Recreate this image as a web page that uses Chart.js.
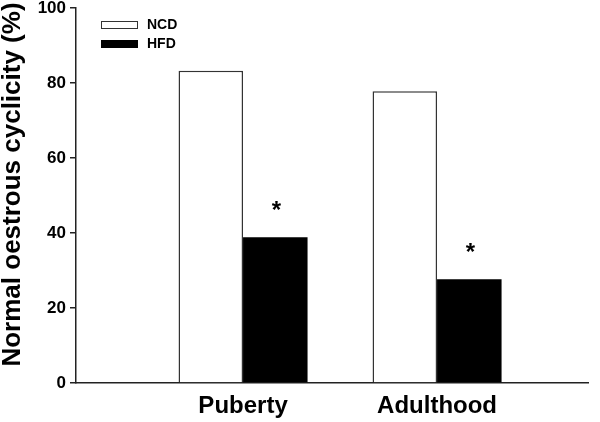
<!DOCTYPE html>
<html>
<head>
<meta charset="utf-8">
<script src="https://cdn.jsdelivr.net/npm/chart.js@4"></script>
<style>
  html, body { margin: 0; padding: 0; background: #fff; }
  #wrap { width: 600px; height: 422px; }
</style>
</head>
<body>
<div id="wrap"><canvas id="chart" width="600" height="422"></canvas></div>
<script>
// data
const categories = ['Puberty', 'Adulthood'];
const ncdValues = [83.3, 77.8];
const hfdValues = [38.9, 27.7];
const significant = [true, true]; // asterisk above HFD bar
const yTicks = [0, 20, 40, 60, 80, 100];
const seriesNames = ['NCD', 'HFD'];
const yTitle = 'Normal oestrous cyclicity (%)';

const FONT = 'Arial, "Liberation Sans", Helvetica, sans-serif';

function toPoints(values) {
    return values.map((v, i) => ({ x: i + 1, y: v }));
}

// legend drawn top-left inside the plot
const legendPlugin = {
    id: 'boxLegend',
    afterDraw(chart) {
        const ctx = chart.ctx;
        const area = chart.chartArea;
        const x0 = area.left + 25;
        ctx.save();
        chart.data.datasets.forEach((ds, i) => {
            const y = area.top + 13 + i * 19;
            ctx.fillStyle = ds.backgroundColor;
            ctx.fillRect(x0, y, 37, 8);
            ctx.lineWidth = 1;
            ctx.strokeStyle = ds.borderColor;
            ctx.strokeRect(x0 + 0.5, y + 0.5, 36, 7);
            ctx.fillStyle = '#000';
            ctx.font = 'bold 14px ' + FONT;
            ctx.textBaseline = 'middle';
            ctx.textAlign = 'left';
            ctx.fillText(ds.label, x0 + 46, y + 4.5);
        });
        ctx.restore();
    }
};

// rotated y title, sits a little above the plot centre like the original
const yTitlePlugin = {
    id: 'yTitle',
    afterDraw(chart) {
        const ctx = chart.ctx;
        const area = chart.chartArea;
        ctx.save();
        ctx.translate(13, (area.top + area.bottom) / 2 - 11);
        ctx.rotate(-Math.PI / 2);
        ctx.fillStyle = '#000';
        ctx.font = 'bold 26px ' + FONT;
        ctx.textAlign = 'center';
        ctx.textBaseline = 'middle';
        ctx.fillText(yTitle, 0, 0);
        ctx.restore();
    }
};

// significance stars over HFD bars
const starPlugin = {
    id: 'stars',
    afterDatasetsDraw(chart) {
        const meta = chart.getDatasetMeta(1);
        const ctx = chart.ctx;
        ctx.save();
        ctx.fillStyle = '#000';
        ctx.font = 'bold 24px ' + FONT;
        ctx.textAlign = 'center';
        ctx.textBaseline = 'alphabetic';
        meta.data.forEach((bar, i) => {
            if (!significant[i]) return;
            ctx.fillText('*', bar.x + 1, bar.y - 19);
        });
        ctx.restore();
    }
};

const ctx = document.getElementById('chart').getContext('2d');
new Chart(ctx, {
    type: 'bar',
    data: {
        datasets: [{
            label: seriesNames[0],
            data: toPoints(ncdValues),
            backgroundColor: '#ffffff',
            borderColor: '#333333',
            borderWidth: 1.5,
            borderSkipped: 'bottom'
        }, {
            label: seriesNames[1],
            data: toPoints(hfdValues),
            backgroundColor: '#000000',
            borderColor: '#000000',
            borderWidth: 0
        }]
    },
    options: {
        responsive: false,
        animation: false,
        barPercentage: 1,
        categoryPercentage: 0.665,
        layout: { padding: { top: 8, right: 12, left: 0, bottom: 0 } },
        plugins: {
            legend: { display: false },
            tooltip: { enabled: false }
        },
        scales: {
            x: {
                type: 'linear',
                offset: false,
                min: 0.139,
                max: 2.778,
                afterBuildTicks: (scale) => {
                    scale.ticks = categories.map((c, i) => ({ value: i + 1 }));
                },
                afterFit: (scale) => { scale.height = 39; },
                grid: { display: false, offset: false },
                border: { display: true, color: '#222', width: 1.5 },
                ticks: {
                    autoSkip: false,
                    maxRotation: 0,
                    padding: 1,
                    color: '#000',
                    font: { family: FONT, size: 24, weight: 'bold' },
                    callback: (v) => categories[v - 1] || ''
                }
            },
            y: {
                min: 0,
                max: 100,
                afterBuildTicks: (scale) => {
                    scale.ticks = yTicks.map(v => ({ value: v }));
                },
                afterFit: (scale) => {
                    scale.width = 76;
                    scale.paddingTop = 0;
                },
                grid: {
                    drawOnChartArea: false,
                    drawTicks: true,
                    tickLength: 6,
                    color: '#222',
                    lineWidth: 1.5
                },
                border: { display: true, color: '#222', width: 1.5 },
                ticks: {
                    padding: 4,
                    color: '#000',
                    font: { family: FONT, size: 17, weight: 'bold', lineHeight: 1 }
                }
            }
        }
    },
    plugins: [legendPlugin, yTitlePlugin, starPlugin]
});
</script>
</body>
</html>
